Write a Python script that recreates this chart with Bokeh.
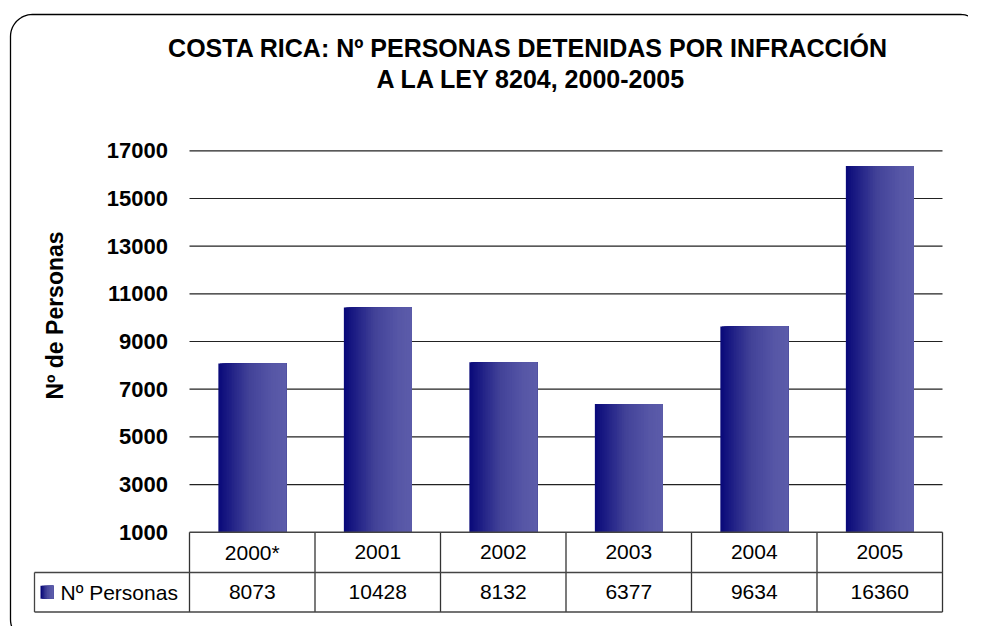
import numpy as np
from bokeh.plotting import figure
from bokeh.models import Range1d
from bokeh.core.properties import value
from bokeh.embed import file_html
from bokeh.resources import INLINE

# ---------------- data ----------------
years = ["2000*", "2001", "2002", "2003", "2004", "2005"]
personas = [8073, 10428, 8132, 6377, 9634, 16360]
y_ticks = [1000, 3000, 5000, 7000, 9000, 11000, 13000, 15000, 17000]
title_lines = ["COSTA RICA:  Nº PERSONAS DETENIDAS POR INFRACCIÓN", "A LA LEY 8204, 2000-2005"]
y_label = "Nº de Personas"
series_name = "Nº Personas"

# ---------------- layout (pixels, page coordinates) ----------------
W, H = 968, 626
OFF = 0                    # canvas origin in page coords
PL, PR = 189, 942          # plot area left/right
PT, PB = 150.3, 531.7      # y of top tick / bottom tick
ROW1, ROW2 = 572.0, 611.5  # table row bottoms
LEG_L = 34
cat_w = (PR - PL) / len(years)
ymin, ymax = y_ticks[0], y_ticks[-1]
px_per_val = (PB - PT) / (ymax - ymin)
FONT = value("Liberation Sans")

p = figure(width=W, height=H, x_range=Range1d(OFF, OFF + W), y_range=Range1d(OFF + H, OFF),
           output_backend="svg", toolbar_location=None, min_border=0,
           x_axis_type=None, y_axis_type=None)
p.grid.visible = False
p.outline_line_color = None
p.background_fill_color = "white"
p.border_fill_color = "white"
p.extra_x_ranges = {"cat": Range1d((OFF - PL) / cat_w, (OFF + W - PL) / cat_w)}
p.extra_y_ranges = {"val": Range1d(ymin - (OFF + H - PB) / px_per_val,
                                   ymax + (PT - OFF) / px_per_val)}

# ---------------- outer rounded frame ----------------
fl, ft, fr, fb, rad = 10, 14, 982, 641, 22
pts = []
for cx, cy, a0, a1 in [(fl + rad, ft + rad, np.pi, 1.5 * np.pi),
                       (fr - rad, ft + rad, 1.5 * np.pi, 2 * np.pi),
                       (fr - rad, fb - rad, 0, 0.5 * np.pi),
                       (fl + rad, fb - rad, 0.5 * np.pi, np.pi)]:
    a = np.linspace(a0, a1, 16)
    pts += list(zip(cx + rad * np.cos(a), cy + rad * np.sin(a)))
pts.append(pts[0])
p.line([q[0] for q in pts], [q[1] for q in pts], line_color="black", line_width=1.3)

# ---------------- gridlines ----------------
p.segment(x0=PL, x1=PR, y0=y_ticks[1:], y1=y_ticks[1:], y_range_name="val",
          line_color="#222222", line_width=1.2)

# ---------------- gradient bars ----------------
stops_t = [0.0, 0.45, 0.8, 1.0]
stops_c = np.array([[10, 10, 122], [66, 66, 152], [86, 86, 166], [92, 92, 170]])

def grad(t):
    return "#%02x%02x%02x" % tuple(int(round(np.interp(t, stops_t, stops_c[:, k]))) for k in range(3))

nsl = 40
bw = 0.54
left, right, top, bottom, colors = [], [], [], [], []
for i, v in enumerate(personas):
    for k in range(nsl):
        t = k / (nsl - 1)
        left.append(i + 0.5 - bw / 2 + bw * k / nsl)
        right.append(i + 0.5 + bw / 2)
        top.append(v)
        bottom.append(ymin)
        colors.append(grad(t))
p.quad(left=left, right=right, top=top, bottom=bottom, fill_color=colors, line_color=None,
       x_range_name="cat", y_range_name="val")

# ---------------- y tick labels ----------------
p.text(x=[167.5] * len(y_ticks), y=y_ticks, text=[str(t) for t in y_ticks], y_range_name="val",
       text_font=FONT, text_font_style="bold", text_font_size="22px",
       text_align="right", text_baseline="middle", text_color="black")

# y axis label
p.text(x=[54], y=[315], text=[y_label], angle=np.pi / 2, text_font=FONT, text_font_style="bold",
       text_font_size="23px", text_align="center", text_baseline="middle", text_color="black")

# title
p.text(x=[531, 531], y=[47, 78], text=title_lines, text_font=FONT, text_font_style="bold",
       text_font_size="25px", text_align="center", text_baseline="middle", text_color="black")

# ---------------- data table ----------------
ncat = len(years)
cols = list(range(ncat + 1))
# vertical lines
p.segment(x0=cols, x1=cols, y0=[PB] * len(cols), y1=[ROW2] * len(cols), x_range_name="cat",
          line_color="#333333", line_width=1.3)
# horizontal lines
p.segment(x0=[PL, LEG_L, LEG_L], x1=[PR, PR, PR], y0=[PB, ROW1, ROW2], y1=[PB, ROW1, ROW2],
          line_color="#444444", line_width=1.5)
p.segment(x0=[LEG_L], x1=[LEG_L], y0=[ROW1], y1=[ROW2], line_color="#444444", line_width=1.3)

centers = [i + 0.5 for i in range(ncat)]
p.text(x=centers, y=[(PB + ROW1) / 2] * ncat, text=years, x_range_name="cat",
       text_font=FONT, text_font_size="21px", text_align="center", text_baseline="middle",
       text_color="black")
p.text(x=centers, y=[(ROW1 + ROW2) / 2] * ncat, text=[str(v) for v in personas], x_range_name="cat",
       text_font=FONT, text_font_size="21px", text_align="center", text_baseline="middle",
       text_color="black")

# legend key (gradient square) + label
ks, kx0, ky = 13, 40, (ROW1 + ROW2) / 2
nk = 8
p.quad(left=[kx0 + ks * k / nk for k in range(nk)], right=[kx0 + ks] * nk,
       top=[ky - ks / 2] * nk, bottom=[ky + ks / 2] * nk,
       fill_color=[grad(k / (nk - 1)) for k in range(nk)], line_color=None)
p.text(x=[60], y=[ky], text=[series_name], text_font=FONT, text_font_size="21px",
       text_align="left", text_baseline="middle", text_color="black")

open("out.html", "w").write(file_html(p, INLINE))
